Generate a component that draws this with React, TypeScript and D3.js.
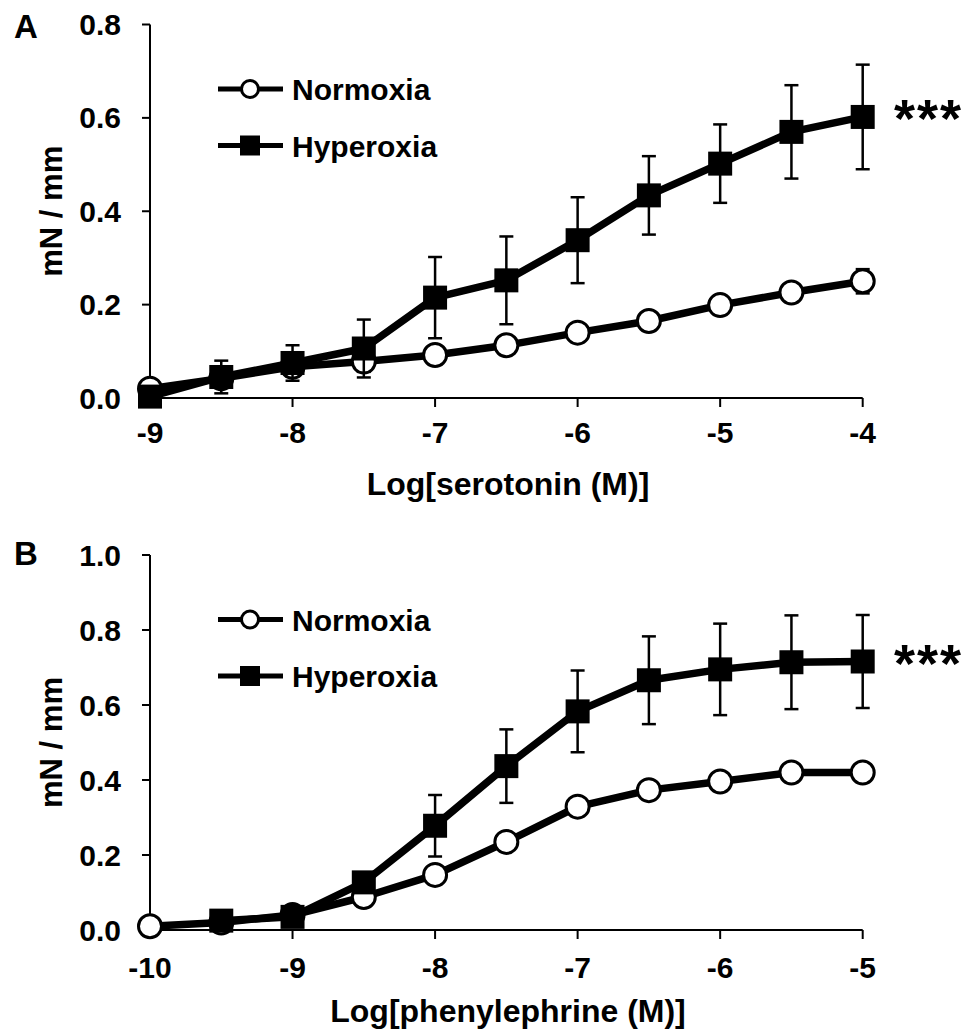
import React from "react";
import * as d3 from "d3";

// ---------- data ----------
const serotoninLogM = [-9, -8.5, -8, -7.5, -7, -6.5, -6, -5.5, -5, -4.5, -4];
const serotoninNormoxia = [0.02, 0.042, 0.067, 0.078, 0.092, 0.113, 0.14, 0.165, 0.199, 0.226, 0.25];
const serotoninNormoxiaErr = [0.005, 0.01, 0.02, 0.022, 0.015, 0.015, 0.015, 0.015, 0.015, 0.018, 0.026];
const serotoninHyperoxia = [0.003, 0.045, 0.075, 0.106, 0.215, 0.252, 0.338, 0.434, 0.502, 0.57, 0.602];
const serotoninHyperoxiaErr = [0.005, 0.035, 0.038, 0.062, 0.087, 0.094, 0.092, 0.084, 0.084, 0.1, 0.112];
const serotoninXTicks = [-9, -8, -7, -6, -5, -4];
const serotoninYTicks = [0, 0.2, 0.4, 0.6, 0.8];

const phenylLogM = [-10, -9.5, -9, -8.5, -8, -7.5, -7, -6.5, -6, -5.5, -5];
const phenylNormoxia = [0.01, 0.02, 0.04, 0.088, 0.147, 0.235, 0.329, 0.373, 0.396, 0.42, 0.42];
const phenylNormoxiaErr = [0.005, 0.01, 0.01, 0.015, 0.02, 0.02, 0.02, 0.02, 0.02, 0.015, 0.015];
// no visible hyperoxia marker at -10 in the reference (hidden under the open circle)
const phenylHyperoxia = [NaN, 0.025, 0.035, 0.127, 0.278, 0.437, 0.583, 0.666, 0.695, 0.714, 0.716];
const phenylHyperoxiaErr = [0, 0.012, 0.01, 0.015, 0.082, 0.098, 0.109, 0.117, 0.122, 0.125, 0.124];
const phenylXTicks = [-10, -9, -8, -7, -6, -5];
const phenylYTicks = [0, 0.2, 0.4, 0.6, 0.8, 1.0];

const seriesNames = ["Normoxia", "Hyperoxia"];
const panelLetters = ["A", "B"];
const xTitles = ["Log[serotonin (M)]", "Log[phenylephrine (M)]"];
const yTitle = "mN / mm";
const significance = "***";

const FONT = "'Liberation Sans', Arial, Helvetica, sans-serif";

type PanelProps = {
  letter: string;
  letterY: number;
  xs: number[];
  norm: number[];
  normErr: number[];
  hyper: number[];
  hyperErr: number[];
  xTicks: number[];
  yTicks: number[];
  xTitle: string;
  top: number;
  bottom: number;
  tickLabelOffset: number;
  titleOffset: number;
};

function Panel(p: PanelProps) {
  const x = d3
    .scaleLinear()
    .domain([p.xTicks[0], p.xTicks[p.xTicks.length - 1]])
    .range([150, 862.7]);
  const y = d3
    .scaleLinear()
    .domain([p.yTicks[0], p.yTicks[p.yTicks.length - 1]])
    .range([p.bottom, p.top]);
  const line = d3
    .line<number>()
    .defined((d) => !isNaN(d))
    .x((_, i) => x(p.xs[i]))
    .y((d) => y(d));
  const fmt = d3.format(".1f");

  const errBars = (vals: number[], errs: number[]) =>
    vals.map((v, i) => {
      if (isNaN(v)) return null;
      const cx = x(p.xs[i]);
      const y1 = y(v + errs[i]);
      const y2 = y(v - errs[i]);
      return (
        <g key={i} stroke="#000" strokeWidth={2.5}>
          <line x1={cx} x2={cx} y1={y1} y2={y2} />
          <line x1={cx - 7} x2={cx + 7} y1={y1} y2={y1} />
          <line x1={cx - 7} x2={cx + 7} y1={y2} y2={y2} />
        </g>
      );
    });

  const legY1 = p.top + 64.5;
  const legY2 = legY1 + 56.5;
  const last = p.hyper.length - 1;

  return (
    <g fontFamily={FONT} fontWeight="bold">
      {/* panel letter */}
      <text x={14} y={p.letterY} fontSize={33}>
        {p.letter}
      </text>
      {/* y axis */}
      <line x1={150} x2={150} y1={p.top} y2={p.bottom} stroke="#000" strokeWidth={2} />
      {p.yTicks.map((t) => (
        <g key={t}>
          <line x1={142} x2={150} y1={y(t)} y2={y(t)} stroke="#000" strokeWidth={2} />
          <text x={121} y={y(t) + 10.5} textAnchor="end" fontSize={30}>
            {fmt(t)}
          </text>
        </g>
      ))}
      {/* x axis */}
      <line x1={150} x2={862.7} y1={p.bottom} y2={p.bottom} stroke="#000" strokeWidth={2} />
      {p.xTicks.map((t) => (
        <g key={t}>
          <line x1={x(t)} x2={x(t)} y1={p.bottom} y2={p.bottom + 9} stroke="#000" strokeWidth={2} />
          <text x={x(t)} y={p.bottom + p.tickLabelOffset} textAnchor="middle" fontSize={30}>
            {t}
          </text>
        </g>
      ))}
      <text x={508} y={p.bottom + p.titleOffset} textAnchor="middle" fontSize={32}>
        {p.xTitle}
      </text>
      <text
        transform={`translate(62,${(p.top + p.bottom) / 2}) rotate(-90)`}
        textAnchor="middle"
        fontSize={31}
      >
        {yTitle}
      </text>

      {/* Normoxia */}
      {errBars(p.norm, p.normErr)}
      <path d={line(p.norm) || ""} fill="none" stroke="#000" strokeWidth={7.5} strokeLinejoin="round" />
      {p.norm.map((v, i) => (
        <circle key={i} cx={x(p.xs[i])} cy={y(v)} r={11.5} fill="#fff" stroke="#000" strokeWidth={3} />
      ))}

      {/* Hyperoxia */}
      {errBars(p.hyper, p.hyperErr)}
      <path d={line(p.hyper) || ""} fill="none" stroke="#000" strokeWidth={7.5} strokeLinejoin="round" />
      {p.hyper.map((v, i) =>
        isNaN(v) ? null : (
          <rect key={i} x={x(p.xs[i]) - 12} y={y(v) - 12} width={24} height={24} fill="#000" />
        )
      )}

      {/* significance */}
      <text x={894} y={y(p.hyper[last]) + 20} fontSize={54} letterSpacing={2}>
        {significance}
      </text>

      {/* legend */}
      <line x1={218} x2={283} y1={legY1} y2={legY1} stroke="#000" strokeWidth={5} />
      <circle cx={250} cy={legY1} r={8.5} fill="#fff" stroke="#000" strokeWidth={3} />
      <text x={292} y={legY1 + 11} fontSize={30}>
        {seriesNames[0]}
      </text>
      <line x1={218} x2={283} y1={legY2} y2={legY2} stroke="#000" strokeWidth={5} />
      <rect x={240} y={legY2 - 10} width={20} height={20} fill="#000" />
      <text x={292} y={legY2 + 11} fontSize={30}>
        {seriesNames[1]}
      </text>
    </g>
  );
}

export default function App() {
  return (
    <svg
      width={980}
      height={1034}
      style={{ position: "absolute", left: 0, top: 0, background: "#fff" }}
    >
      <rect width={980} height={1034} fill="#fff" />
      <Panel
        letter={panelLetters[0]}
        letterY={38}
        xs={serotoninLogM}
        norm={serotoninNormoxia}
        normErr={serotoninNormoxiaErr}
        hyper={serotoninHyperoxia}
        hyperErr={serotoninHyperoxiaErr}
        xTicks={serotoninXTicks}
        yTicks={serotoninYTicks}
        xTitle={xTitles[0]}
        top={24.5}
        bottom={398}
        tickLabelOffset={45}
        titleOffset={97}
      />
      <Panel
        letter={panelLetters[1]}
        letterY={565}
        xs={phenylLogM}
        norm={phenylNormoxia}
        normErr={phenylNormoxiaErr}
        hyper={phenylHyperoxia}
        hyperErr={phenylHyperoxiaErr}
        xTicks={phenylXTicks}
        yTicks={phenylYTicks}
        xTitle={xTitles[1]}
        top={555}
        bottom={930}
        tickLabelOffset={48}
        titleOffset={92}
      />
    </svg>
  );
}
